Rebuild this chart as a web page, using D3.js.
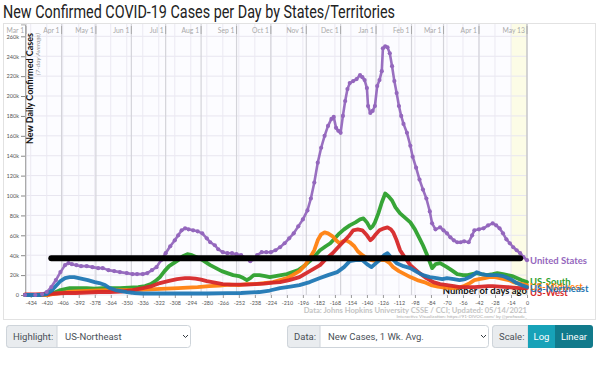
<!DOCTYPE html>
<html>
<head>
<meta charset="utf-8">
<script src="https://cdn.jsdelivr.net/npm/d3@7"></script>
<style>
  body { margin: 0; background: #fff; }
  svg { display: block; font-family: Lato, "Open Sans", sans-serif; }
</style>
</head>
<body>
<svg id="chart" width="600" height="386"></svg>
<script>
// [days ago, new cases in thousands (7-day avg)]
const unitedStates = [[-439,0],[-430,0],[-424,1],[-420,3],[-416,8],[-412,15],[-408,23],[-404,30],[-401,32],[-398,31],[-394,30],[-390,29],[-385,29],[-380,28],[-375,27],[-371,27],[-366,25],[-361,24],[-356,23],[-350,22],[-345,21],[-341,21],[-336,21],[-332,22],[-328,25],[-324,28],[-320,35],[-316,42],[-312,49],[-308,55],[-305,60],[-302,65],[-299,67],[-296,66],[-292,65],[-288,64],[-284,62],[-280,57],[-277,53],[-273,50],[-270,46],[-266,43],[-262,42],[-258,42],[-254,41],[-250,40],[-246,37],[-242,34],[-239,36],[-236,40],[-232,43],[-228,43],[-224,43],[-220,45],[-216,48],[-212,52],[-208,57],[-204,62],[-200,69],[-196,76],[-192,85],[-189,97],[-186,113],[-183,133],[-180,148],[-177,160],[-174,170],[-171,177],[-169,179],[-167,168],[-165,165],[-163,163],[-161,180],[-159,195],[-157,207],[-155,213],[-152,215],[-149,217],[-146,221],[-144,219],[-142,216],[-140,208],[-139,190],[-137,183],[-135,185],[-133,190],[-131,210],[-129,216],[-127,225],[-126,248],[-124,250],[-122,249],[-120,243],[-118,230],[-116,215],[-114,203],[-112,190],[-110,180],[-108,172],[-105,163],[-102,150],[-100,139],[-97,128],[-94,116],[-91,106],[-88,97],[-85,84],[-83,72],[-80,66],[-76,68],[-73,65],[-70,62],[-67,58],[-64,55],[-61,53],[-58,53],[-55,54],[-51,53],[-48,60],[-46,65],[-42,66],[-38,67],[-34,70],[-30,72],[-27,70],[-24,67],[-21,62],[-18,56],[-15,52],[-12,48],[-9,45],[-6,42],[-3,38],[0,35]];
const usSouth = [[-439,0],[-420,0],[-416,1],[-412,3],[-408,5],[-404,6],[-400,7],[-392,7],[-385,7],[-378,6.5],[-371,7],[-364,7],[-356,7],[-348,7.5],[-340,8],[-334,9],[-329,11],[-325,14],[-321,18],[-317,24],[-313,29],[-309,32],[-305,35],[-301,39],[-297,41],[-293,40],[-289,38],[-285,36],[-281,33],[-277,30],[-272,27],[-267,24],[-262,22],[-257,20],[-252,19],[-248,17],[-245,15],[-242,17],[-239,20],[-234,20],[-229,19],[-225,18],[-220,19],[-215,20],[-210,21],[-205,23],[-200,25],[-195,29],[-190,34],[-185,40],[-181,45],[-176,49],[-172,52],[-168,57],[-164,62],[-160,66],[-155,70],[-150,73],[-146,76],[-143,77],[-140,73],[-137,67],[-135,69],[-133,73],[-130,82],[-127,93],[-124,102],[-121,99],[-118,95],[-115,88],[-111,82],[-106,77],[-102,73],[-98,66],[-94,57],[-91,50],[-88,42],[-85,33],[-83,27],[-80,31],[-76,32],[-73,30],[-70,28],[-66,25],[-61,21],[-56,20],[-52,20],[-48,21],[-44,22],[-40,21],[-35,20],[-30,21],[-26,22],[-21,21],[-17,20],[-13,19],[-9,17],[-5,15],[0,13]];
const usMidwest = [[-439,0],[-418,0],[-414,1],[-408,2],[-402,3],[-395,3.5],[-385,4],[-375,4.5],[-365,5],[-356,5],[-345,5],[-335,5.5],[-325,6],[-315,6.5],[-305,7],[-297,7.5],[-288,8],[-278,9],[-269,9.5],[-260,10.5],[-252,10],[-245,11],[-238,11],[-230,12],[-222,13],[-216,15],[-210,17],[-205,20],[-199,24],[-194,30],[-190,37],[-186,45],[-183,55],[-180,61],[-177,63],[-174,62],[-170,59],[-167,55],[-164,52],[-161,54],[-158,55],[-155,53],[-151,49],[-148,44],[-144,40],[-140,37],[-136,35],[-132,34],[-128,35],[-124,35],[-120,32],[-117,28],[-112,24],[-107,21],[-102,18],[-96,15],[-90,13],[-84,10],[-78,8.5],[-72,7.5],[-66,7],[-60,7.5],[-55,9],[-50,12],[-46,15],[-42,16],[-37,17],[-33,18],[-28,18],[-24,17],[-20,16],[-16,15],[-12,13],[-8,12],[-4,11],[0,10]];
const usWest = [[-439,0.5],[-430,0.5],[-420,1],[-412,1.5],[-404,2],[-395,2],[-385,2.5],[-375,3],[-365,3],[-355,3.5],[-345,5],[-336,7],[-328,9],[-321,12],[-314,14],[-306,16],[-299,17],[-295,17],[-290,16.5],[-285,15.5],[-280,14],[-273,12.5],[-266,11],[-259,10.5],[-252,10.5],[-245,10.5],[-238,11],[-230,11.5],[-222,12.5],[-216,13],[-208,15],[-199,18],[-193,22],[-187,26],[-181,30],[-176,36],[-170,42],[-166,47],[-161,53],[-156,59],[-152,65],[-148,66],[-144,65],[-140,60],[-137,55],[-135,57],[-133,60],[-129,65],[-125,67],[-122,68],[-119,66],[-117,63],[-114,55],[-111,45],[-107,38],[-102,30],[-98,26],[-94,22],[-88,17],[-82,13],[-76,11],[-70,10],[-64,9],[-59,8],[-52,8],[-46,8],[-40,8.5],[-34,9],[-30,9],[-24,8.5],[-17,8],[-12,7.5],[-6,7],[0,7]];
const usNortheast = [[-439,0],[-425,0],[-420,1],[-416,4],[-412,9],[-408,14],[-404,17],[-400,18],[-396,18],[-392,17],[-388,16],[-384,15],[-378,13],[-374,12],[-369,10],[-365,7],[-360,5],[-355,4],[-350,3],[-343,2],[-336,1.5],[-320,1.5],[-300,1.5],[-280,1.5],[-262,1.8],[-250,2],[-234,3],[-225,4.5],[-216,7],[-207,8.5],[-199,10],[-190,13],[-181,17],[-174,20],[-166,23],[-160,28],[-155,34],[-150,35],[-144,35],[-140,31],[-136,28],[-132,32],[-129,35],[-125,40],[-122,42],[-119,38],[-114,32],[-108,29],[-102,27],[-96,23],[-91,20],[-85,18],[-79,17],[-74,16],[-70,17],[-64,16],[-59,15],[-54,16],[-50,18],[-46,21],[-44,23],[-40,21],[-35,20],[-30,20],[-26,20],[-21,19],[-17,17],[-13,15],[-9,12],[-5,10],[0,8]];

const seriesNames = ["United States", "US-South", "US-Midwest", "US-West", "US-Northeast"];
const seriesValues = [unitedStates, usSouth, usMidwest, usWest, usNortheast];
const seriesColors = ["#9467bd", "#2ca02c", "#ff7f0e", "#d62728", "#1f77b4"];

const dayTicks = [-434,-420,-406,-392,-378,-364,-350,-336,-322,-308,-294,-280,-266,-252,-238,-224,-210,-196,-182,-168,-154,-140,-126,-112,-98,-84,-70,-56,-42,-28,-14,0];
const monthLabels = ["Mar 1","Apr 1","May 1","Jun 1","Jul 1","Aug 1","Sep 1","Oct 1","Nov 1","Dec 1","Jan 1","Feb 1","Mar 1","Apr 1","May 13"];
const monthDays = [-438,-407,-377,-346,-316,-285,-254,-224,-193,-163,-132,-101,-73,-42,0];
const yTicks = [0,20,40,60,80,100,120,140,160,180,200,220,240,260];

// black marker line drawn over the chart
const markerLine = [[-416,37],[-6,37]];

const svg = d3.select("#chart");
const x = d3.scaleLinear().domain([-439, 0]).range([25, 527]);
const y = d3.scaleLinear().domain([0, 272]).range([295, 24.4]);

svg.append("text")
  .attr("x", 3).attr("y", 18)
  .attr("font-family", "Roboto").attr("font-size", 17.5).attr("fill", "#222")
  .attr("textLength", 392).attr("lengthAdjust", "spacingAndGlyphs")
  .text("New Confirmed COVID-19 Cases per Day by States/Territories");

svg.append("rect")
  .attr("x", 3.5).attr("y", 23.5).attr("width", 592).attr("height", 296)
  .attr("fill", "#fff").attr("stroke", "#e2e2e2");

svg.append("rect")
  .attr("x", x(-439)).attr("y", 24).attr("width", x(0) - x(-439)).attr("height", 271)
  .attr("fill", "#fcfcff");

svg.append("rect")
  .attr("x", x(-14)).attr("y", 24).attr("width", x(0) - x(-14)).attr("height", 271)
  .attr("fill", "#fcfce6");

const grid = svg.append("g");
grid.selectAll(".hg").data(yTicks).enter().append("line")
  .attr("x1", x(-439)).attr("x2", x(0))
  .attr("y1", d => y(d)).attr("y2", d => y(d))
  .attr("stroke", "#e8e6f0");
grid.selectAll(".vg").data(dayTicks).enter().append("line")
  .attr("x1", d => x(d)).attr("x2", d => x(d))
  .attr("y1", 24).attr("y2", 295)
  .attr("stroke", "#ebe9f2");
grid.selectAll(".mg").data(monthDays).enter().append("line")
  .attr("x1", d => x(d)).attr("x2", d => x(d))
  .attr("y1", 24).attr("y2", 295)
  .attr("stroke", d => d === 0 ? "#bdbdbd" : "#d4d4da").attr("stroke-width", 1.2);

// month labels on top
const monthAxis = svg.append("g").attr("font-size", 6.8).attr("fill", "#aaa");
monthDays.forEach((d, i) => {
  monthAxis.append("line")
    .attr("x1", x(d)).attr("x2", x(d)).attr("y1", 26).attr("y2", 34)
    .attr("stroke", "#aaa");
  monthAxis.append("text")
    .attr("x", x(d) - 2).attr("y", 33).attr("text-anchor", "end")
    .text(monthLabels[i]);
});

// y axis
const yAxis = svg.append("g").attr("transform", "translate(" + x(-439) + ",0)")
  .call(d3.axisLeft(y).tickValues(yTicks).tickSize(4).tickPadding(2)
    .tickFormat(d => d === 0 ? "0" : d + "k"));
yAxis.select(".domain").attr("stroke", "#aaa");
yAxis.selectAll(".tick line").attr("stroke", "#888");
yAxis.selectAll("text").attr("font-size", 5.6).attr("fill", "#555").attr("font-family", "Lato");

// x axis
const xAxis = svg.append("g").attr("transform", "translate(0,295)")
  .call(d3.axisBottom(x).tickValues(dayTicks).tickSize(3).tickPadding(3)
    .tickFormat(d => String(d)));
xAxis.select(".domain").remove();
xAxis.selectAll(".tick line").attr("stroke", "#999");
xAxis.selectAll("text").attr("font-size", 5.4).attr("fill", "#555").attr("font-family", "Lato");

svg.append("text")
  .attr("transform", "translate(33,33) rotate(-90)")
  .attr("text-anchor", "end").attr("font-size", 9).attr("font-weight", "bold").attr("fill", "#111")
  .text("New Daily Confirmed Cases");
svg.append("text")
  .attr("transform", "translate(39.5,33) rotate(-90)")
  .attr("text-anchor", "end").attr("font-size", 6.5).attr("font-style", "italic").attr("fill", "#999")
  .text("(7-day Average)");

svg.append("text")
  .attr("x", x(0)).attr("y", 294).attr("text-anchor", "end")
  .attr("font-size", 9.5).attr("font-weight", "bold").attr("fill", "#111")
  .text("Number of days ago");

svg.append("text")
  .attr("x", x(0)).attr("y", 313).attr("text-anchor", "end")
  .attr("font-size", 7.6).attr("font-weight", "bold").attr("fill", "#c4c4c4")
  .text("Data: Johns Hopkins University CSSE / CCI; Updated: 05/14/2021");
svg.append("text")
  .attr("x", x(0)).attr("y", 318.3).attr("text-anchor", "end")
  .attr("font-size", 4.6).attr("fill", "#aaa")
  .text("Interactive Visualization: https://91-DIVOC.com/ by @profwade_");

const line = d3.line().x(d => x(d[0])).y(d => y(d[1]));
const lines = svg.append("g").attr("fill", "none").attr("stroke-linejoin", "round").attr("stroke-linecap", "round");
seriesValues.forEach((vals, i) => {
  lines.append("path").datum(vals)
    .attr("d", line)
    .attr("stroke", seriesColors[i])
    .attr("stroke-width", i === 0 ? 2.6 : 3.8)
    .attr("stroke-opacity", 0.95);
});
svg.append("g").selectAll("circle").data(unitedStates).enter().append("circle")
  .attr("cx", d => x(d[0])).attr("cy", d => y(d[1])).attr("r", 2.1)
  .attr("fill", "#9467bd");

const labelNudge = { "United States": 0, "US-South": 0, "US-Midwest": 2, "US-West": 5, "US-Northeast": 2 };
const labels = svg.append("g").attr("font-size", 9.5).attr("font-weight", "bold");
seriesValues.forEach((vals, i) => {
  const last = vals[vals.length - 1];
  labels.append("text")
    .attr("x", x(0) + 3).attr("y", y(last[1]) + labelNudge[seriesNames[i]])
    .attr("dy", "0.35em").attr("fill", seriesColors[i])
    .text(seriesNames[i]);
});

svg.append("path").datum(markerLine)
  .attr("d", line).attr("stroke", "#000").attr("stroke-width", 6)
  .attr("stroke-linecap", "round").attr("fill", "none");

// controls
function group(x0, x1, x2, label, value) {
  const g = svg.append("g").attr("font-family", "Roboto").attr("font-size", 9.5);
  g.append("rect").attr("x", x0 + 0.5).attr("y", 325.5).attr("width", x2 - x0 - 1).attr("height", 22)
    .attr("rx", 3).attr("fill", "#fff").attr("stroke", "#ced4da");
  g.append("path")
    .attr("d", `M${x1},325.5 H${x0 + 3.5} a3,3 0 0 0 -3,3 V344.5 a3,3 0 0 0 3,3 H${x1} Z`)
    .attr("fill", "#e9ecef").attr("stroke", "#ced4da");
  g.append("text").attr("x", x0 + 7).attr("y", 340).attr("fill", "#495057").text(label);
  if (value) {
    g.append("text").attr("x", x1 + 8).attr("y", 340).attr("fill", "#495057").text(value);
    g.append("path").attr("d", `M${x2 - 8},335 l2.5,2.5 l2.5,-2.5`)
      .attr("fill", "none").attr("stroke", "#343a40").attr("stroke-width", 1);
  }
  return g;
}
group(6, 57, 191, "Highlight:", "US-Northeast");
group(287, 320, 489, "Data:", "New Cases, 1 Wk. Avg.");
const sg = group(492, 528, 593, "Scale:", null);
sg.append("rect").attr("x", 528).attr("y", 325).attr("width", 28).attr("height", 23).attr("fill", "#17a2b8");
sg.append("path").attr("d", "M555,325 H590 a3,3 0 0 1 3,3 V345 a3,3 0 0 1 -3,3 H555 Z").attr("fill", "#117a8b");
sg.append("text").attr("x", 541.5).attr("y", 340).attr("text-anchor", "middle").attr("fill", "#fff").text("Log");
sg.append("text").attr("x", 574).attr("y", 340).attr("text-anchor", "middle").attr("fill", "#fff").text("Linear");
</script>
</body>
</html>
